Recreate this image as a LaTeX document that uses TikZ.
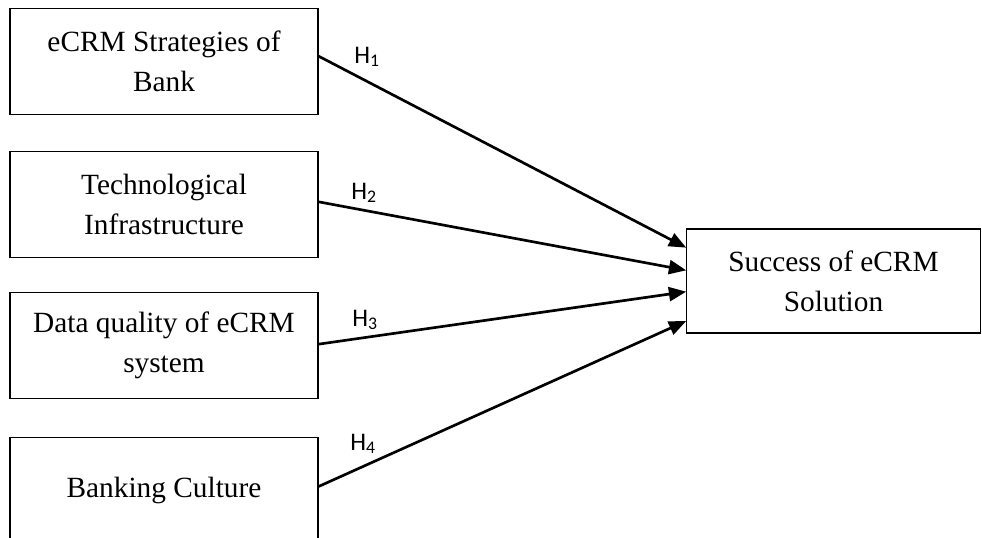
\documentclass[tikz,border=0pt]{standalone}
\usepackage{fontspec}
\setmainfont{Liberation Serif}
\newfontfamily\hypfont{Carlito}
\usepackage{tikz}
\usetikzlibrary{arrows.meta, positioning, calc}

\tikzset{
    factor/.style={draw, line width=0.9pt, minimum width=231pt, minimum height=79pt,
        align=center, inner sep=0pt, font=\fontsize{22}{30}\selectfont},
    outcome/.style={factor, minimum width=220pt, minimum height=78pt},
    hyp/.style={font=\hypfont\fontsize{19}{20}\selectfont, inner sep=0pt},
    link/.style={line width=2pt, -{Triangle[length=13pt, width=10.5pt]}}
}

\begin{document}
\begin{tikzpicture}[x=0.75pt, y=-0.75pt]
    % --- Rahmen ---
    \useasboundingbox (0,0) rectangle (982,538);
    \clip (0,0) rectangle (982,538);

    % --- Faktoren links ---
    \node[factor] (strat) at (164, 61.5) {eCRM Strategies of\\Bank};
    \node[factor] (tech)  at (164, 204.5) {Technological\\Infrastructure};
    \node[factor] (data)  at (164, 345.5) {Data quality of eCRM\\system};
    \node[factor, minimum height=80pt] (cult) at (164, 490.5) {Banking Culture};

    % --- Ergebnis rechts ---
    \node[outcome] (succ) at (833.5, 281) {Success of eCRM\\Solution};

    % --- Hypothesen ---
    \draw[link] ([yshift=4pt]strat.east) -- ([yshift=25pt]succ.west);
    \draw[link] ([yshift=2pt]tech.east) -- ([yshift=8pt]succ.west);
    \draw[link] ([yshift=1pt]data.east) -- ([yshift=-8pt]succ.west);
    \draw[link] ([yshift=3pt]cult.east) -- ([yshift=-30pt]succ.west);

    \node[hyp] (h1) at (367, 57) {H\textsubscript{1}};
    \node[hyp] (h2) at (364, 193) {H\textsubscript{2}};
    \node[hyp] (h3) at (365, 320) {H\textsubscript{3}};
    \node[hyp] (h4) at (363, 444) {H\textsubscript{4}};
\end{tikzpicture}
\end{document}
